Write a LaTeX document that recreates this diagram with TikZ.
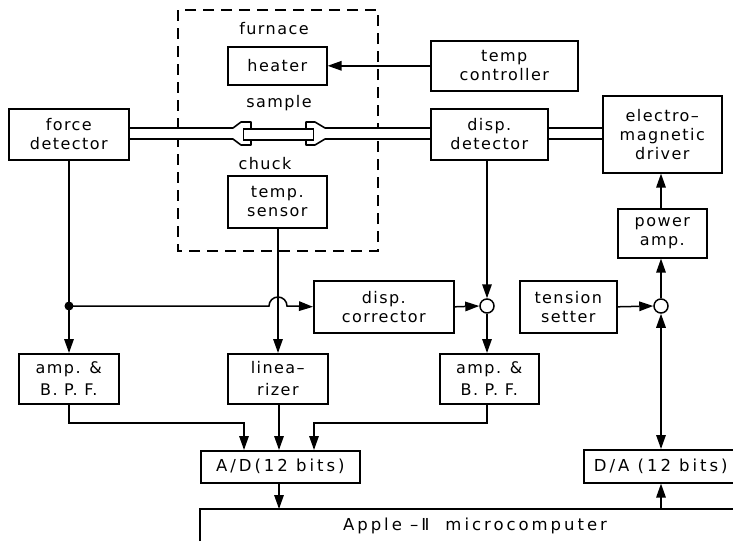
\documentclass[tikz,border=0pt]{standalone}
\usepackage{fontspec}
\setmainfont[LetterSpace=9]{DejaVu Sans}
\usetikzlibrary{positioning,arrows.meta}

\begin{document}
\begin{tikzpicture}[
  x=1pt, y=-1pt,
  block/.style={draw, line width=1.6pt, align=center, font=\fontsize{16}{19}\selectfont,
                inner sep=0pt, anchor=north west},
  tag/.style={font=\fontsize{16}{17}\selectfont, inner sep=0pt},
  wide/.style={font=\fontsize{16.5}{19}\selectfont\addfontfeature{LetterSpace=18}},
  sum/.style={draw, circle, line width=1.5pt, minimum size=14pt, inner sep=0pt, fill=white},
  flow/.style={line width=1.5pt, -{Triangle[length=14pt,width=9.5pt]}},
  both/.style={line width=1.5pt, {Triangle[length=14pt,width=9.5pt]}-{Triangle[length=14pt,width=9.5pt]}},
  shaft/.style={line width=1.6pt, line join=round}
]
\useasboundingbox (0,0) rectangle (733,541);
\draw[line width=1.4pt, dash pattern=on 11pt off 7pt] (178,10) rectangle (378,251);

\node[tag] (furn) at (274,29) {furnace};
\node[tag] (samp) at (279,103) {sample};
\node[tag] (chk) at (265,164) {chuck};

\node[block, minimum width=99pt, minimum height=38pt] (heater) at (227,46) {heater};
\node[block, minimum width=147pt, minimum height=50pt] (ctrl) at (430,40) {temp\\controller};
\node[block, minimum width=120pt, minimum height=51pt] (force) at (8,108) {force\\detector};
\node[block, minimum width=117pt, minimum height=51pt] (disp) at (430,108) {disp.\\detector};
\node[block, minimum width=119pt, minimum height=77pt] (driver) at (602,95) {electro--\\magnetic\\driver};
\node[block, minimum width=99pt, minimum height=52pt] (sensor) at (227,175) {temp.\\sensor};
\node[block, minimum width=89pt, minimum height=49pt] (power) at (617,208) {power\\amp.};
\node[block, minimum width=140pt, minimum height=52pt] (corr) at (313,280) {disp.\\corrector};
\node[block, minimum width=97pt, minimum height=52pt] (tens) at (519,280) {tension\\setter};
\node[block, minimum width=100pt, minimum height=50pt] (amp1) at (18,353) {amp. \&\\[3pt]B. P. F.};
\node[block, minimum width=100pt, minimum height=50pt] (lin) at (227,353) {linea--\\[3pt]rizer};
\node[block, minimum width=99pt, minimum height=50pt] (amp2) at (439,353) {amp. \&\\[3pt]B. P. F.};
\node[block, wide, minimum width=159pt, minimum height=32pt] (ad) at (200,450) {A/D(12 bits)};
\node[block, wide, minimum width=154pt, minimum height=33pt] (da) at (583,449) {D/A (12 bits)};
\node[tag, wide] (micro) at (475,526) {Apple –Ⅱ\hspace{16pt}microcomputer};

\coordinate (apl) at (200,541);
\coordinate (apc) at (200,509);
\coordinate (apr) at (733,509);
\draw[line width=1.6pt] (apl) -- (apc) -- (apr);

\node[sum] (s1) at (487,306) {};
\node[sum] (s2) at (661,306) {};
\coordinate (tap) at (69,306);
\fill (tap) circle (4.5pt);

% rods, sample and chucks
\fill[white] (force.east |- 0,128) rectangle (disp.west |- 0,139);
\draw[shaft] (force.east |- 0,128) -- (233,128) -- (241,122) -- (251,122) -- (251,129);
\draw[shaft] (force.east |- 0,139) -- (233,139) -- (241,145) -- (251,145) -- (251,140);
\draw[shaft] (disp.west |- 0,128) -- (325,128) -- (315,122) -- (306,122) -- (306,129);
\draw[shaft] (disp.west |- 0,139) -- (325,139) -- (315,145) -- (306,145) -- (306,140);
\node[draw, line width=1.6pt, minimum width=70pt, minimum height=11pt, inner sep=0pt] (rod) at (278.5,134.5) {};
\draw[shaft] (disp.east |- 0,128) -- (driver.west |- 0,128);
\draw[shaft] (disp.east |- 0,139) -- (driver.west |- 0,139);

\draw[flow] (ctrl.west) -- (heater.east);
\draw[line width=1.5pt] (force.south -| tap) -- (tap);
\draw[flow] (tap) -- (tap |- amp1.north);
\draw[flow] (tap) -- (269,306) arc (180:0:9pt) -- (296,306) -- (corr.west);
\draw[flow] (sensor.south -| 278,0) -- (lin.north -| 278,0);
\draw[flow] (disp.south -| s1) -- (s1.north);
\draw[flow] (corr.east) -- (s1.west);
\draw[flow] (s1.south) -- (s1 |- amp2.north);
\draw[flow] (tens.east) -- (s2.west);
\draw[flow] (s2.north) -- (s2 |- power.south);
\draw[flow] (s2 |- power.north) -- (s2 |- driver.south);
\draw[both] (s2.south) -- (s2 |- da.north);
\draw[flow] (amp1.south -| tap) |- (244,423) -- (244,450);
\draw[flow] (lin.south -| 279,0) -- (ad.north -| 279,0);
\draw[flow] (amp2.south -| s1) |- (314,423) -- (314,450);
\draw[flow] (ad.south -| 279,0) -- (apc -| 279,0);
\draw[flow] (apr -| s2) -- (s2 |- da.south);
\end{tikzpicture}
\end{document}
